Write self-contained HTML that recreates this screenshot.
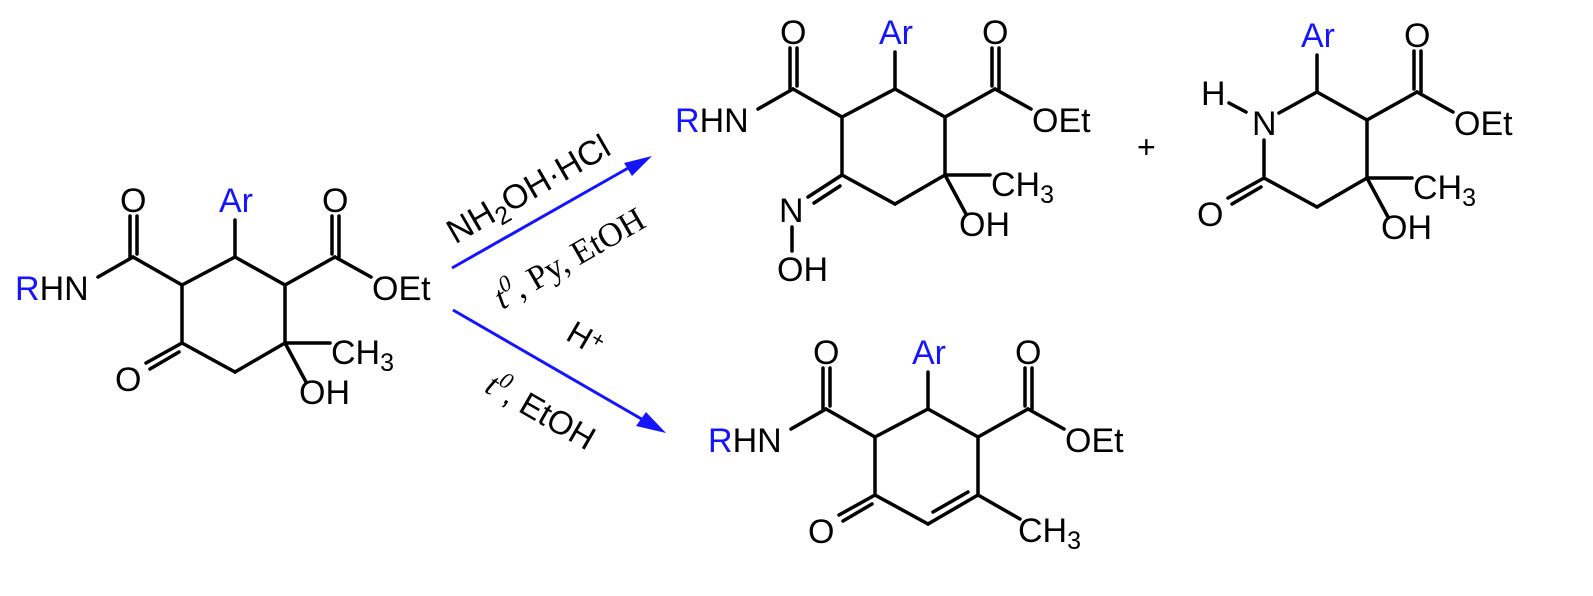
<!DOCTYPE html>
<html><head><meta charset="utf-8"><style>
html,body{margin:0;padding:0;background:#fff}
svg{display:block}
text{font-family:"Liberation Sans",Arial,sans-serif;font-size:34px;fill:#000}
.b{fill:#1414ff}
</style></head><body>
<svg width="1593" height="596" viewBox="0 0 1593 596" xmlns="http://www.w3.org/2000/svg">
<defs>
<g id="top">
 <g stroke="#000" stroke-width="3.5" fill="none" stroke-linecap="round">
  <line x1="235" y1="257" x2="182" y2="285"/>
  <line x1="235" y1="257" x2="285" y2="285"/>
  <line x1="182" y1="285" x2="182" y2="343"/>
  <line x1="285" y1="285" x2="285" y2="343"/>
  <line x1="235" y1="257" x2="235" y2="220"/>
  <line x1="182" y1="285" x2="133" y2="257"/>
  <line x1="133" y1="257" x2="98" y2="277"/>
  <line x1="130" y1="257" x2="130" y2="216"/>
  <line x1="137" y1="254" x2="137" y2="216"/>
  <line x1="285" y1="285" x2="335" y2="257"/>
  <line x1="335" y1="257" x2="371" y2="277"/>
  <line x1="332" y1="254" x2="332" y2="216"/>
  <line x1="339" y1="257" x2="339" y2="216"/>
 </g>
 <text x="120" y="212">O</text>
 <text x="322" y="212">O</text>
 <text x="219" y="212" class="b">Ar</text>
 <text x="15" y="300"><tspan class="b">R</tspan>HN</text>
 <text x="372" y="300">OEt</text>
</g>
<g id="cmoh">
 <g stroke="#000" stroke-width="3.5" fill="none" stroke-linecap="round">
  <line x1="285" y1="343" x2="235" y2="372"/>
  <line x1="285" y1="343" x2="330" y2="343"/>
  <line x1="285" y1="343" x2="306" y2="382"/>
 </g>
 <text x="331" y="364">CH<tspan font-size="25" dy="7">3</tspan></text>
 <text x="299" y="404">OH</text>
</g>
</defs>

<use href="#top"/>
<use href="#cmoh"/>
<g stroke="#000" stroke-width="3.5" fill="none" stroke-linecap="round">
 <line x1="182" y1="343" x2="235" y2="372"/>
 <line x1="182" y1="343" x2="146" y2="363"/>
 <line x1="179" y1="352" x2="150" y2="369"/>
</g>
<text x="115" y="391">O</text>

<g stroke="#1414ff" stroke-width="3">
 <line x1="452" y1="268" x2="630" y2="167"/>
 <line x1="453" y1="310" x2="645" y2="421"/>
</g>
<polygon points="652,156 624,163 632,176" fill="#1414ff"/>
<polygon points="666,433 636,426 646,412" fill="#1414ff"/>

<text transform="translate(534,199) rotate(-30)" text-anchor="middle">NH<tspan font-size="25" dy="7">2</tspan><tspan dy="-7">OH·HCl</tspan></text>
<text transform="translate(575,268) rotate(-30)" text-anchor="middle" style="font-size:34px;font-family:'Liberation Serif',serif"><tspan font-style="italic">t</tspan><tspan font-style="italic" font-size="23" dy="-14">0</tspan><tspan dy="14">, Py, EtOH</tspan></text>
<text transform="translate(580,348) rotate(30)" text-anchor="middle" style="font-size:32px">H<tspan font-size="22" dy="-9">+</tspan></text>
<text transform="translate(535,421) rotate(30)" text-anchor="middle" style="font-size:33px"><tspan font-style="italic" style="font-family:'Liberation Serif',serif">t</tspan><tspan font-style="italic" font-size="23" dy="-13" style="font-family:'Liberation Serif',serif">0</tspan><tspan dy="13">, EtOH</tspan></text>

<g transform="translate(660,-168)">
 <use href="#top"/>
 <use href="#cmoh"/>
 <line x1="182" y1="343" x2="235" y2="372" stroke="#000" stroke-width="3.5" stroke-linecap="round"/>
</g>
<g stroke="#000" stroke-width="3.5" fill="none" stroke-linecap="round">
 <line x1="842" y1="175" x2="808" y2="197"/>
 <line x1="840" y1="186" x2="814" y2="203"/>
 <line x1="792" y1="227" x2="792" y2="251"/>
</g>
<text x="779" y="222">N</text>
<text x="777" y="281">OH</text>

<text x="1137" y="158" style="font-size:32px">+</text>

<g transform="translate(1082,-165)">
 <use href="#cmoh"/>
 <g stroke="#000" stroke-width="3.5" fill="none" stroke-linecap="round">
  <line x1="235" y1="257" x2="285" y2="285"/>
  <line x1="285" y1="285" x2="285" y2="343"/>
  <line x1="235" y1="257" x2="235" y2="220"/>
  <line x1="285" y1="285" x2="335" y2="257"/>
  <line x1="335" y1="257" x2="371" y2="277"/>
  <line x1="332" y1="254" x2="332" y2="216"/>
  <line x1="339" y1="257" x2="339" y2="216"/>
  <line x1="182" y1="343" x2="235" y2="372"/>
  <line x1="182" y1="343" x2="146" y2="363"/>
  <line x1="179" y1="352" x2="150" y2="369"/>
  <line x1="182" y1="343" x2="182" y2="305"/>
  <line x1="235" y1="257" x2="197" y2="278"/>
  <line x1="147" y1="268" x2="164" y2="277"/>
 </g>
 <text x="322" y="212">O</text>
 <text x="219" y="212" class="b">Ar</text>
 <text x="372" y="300">OEt</text>
 <text x="115" y="391">O</text>
 <text x="170" y="300">N</text>
 <text x="119" y="270">H</text>
</g>

<g transform="translate(693,152)">
 <use href="#top"/>
 <g stroke="#000" stroke-width="3.5" fill="none" stroke-linecap="round">
  <line x1="182" y1="343" x2="235" y2="372"/>
  <line x1="182" y1="343" x2="146" y2="363"/>
  <line x1="179" y1="352" x2="150" y2="369"/>
  <line x1="285" y1="343" x2="235" y2="372"/>
  <line x1="275" y1="340" x2="240" y2="360"/>
  <line x1="285" y1="343" x2="327" y2="367"/>
 </g>
 <text x="115" y="391">O</text>
 <text x="325" y="390">CH<tspan font-size="25" dy="7">3</tspan></text>
</g>
</svg>
</body></html>
